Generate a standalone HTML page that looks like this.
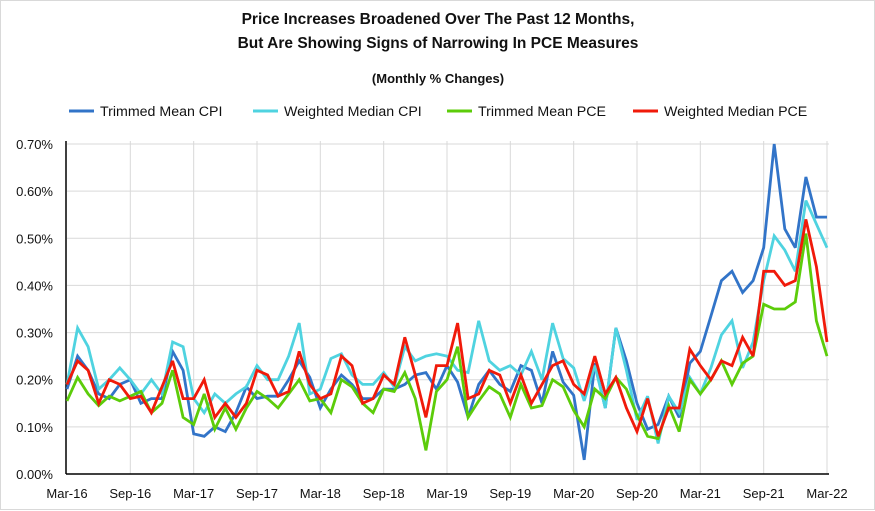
<!DOCTYPE html>
<html><head><meta charset="utf-8"><style>
body{margin:0;background:#fff;font-family:"Liberation Sans",sans-serif}
#wrap{position:relative;width:873px;height:508px;border:1px solid #d9d9d9;background:#fff}
svg{position:absolute;left:0;top:0}
</style></head><body>
<div id="wrap">
<svg id="chart" width="875" height="510"></svg>
</div>
<script>
const categories=["Mar-16","Sep-16","Mar-17","Sep-17","Mar-18","Sep-18","Mar-19","Sep-19","Mar-20","Sep-20","Mar-21","Sep-21","Mar-22"];
const yTicks=[0,0.1,0.2,0.3,0.4,0.5,0.6,0.7];
const trimmedMeanCPI=[0.18,0.25,0.22,0.17,0.16,0.19,0.20,0.15,0.16,0.16,0.26,0.22,0.085,0.08,0.10,0.09,0.13,0.185,0.16,0.165,0.165,0.20,0.24,0.205,0.14,
0.18,0.21,0.19,0.16,0.16,0.18,0.18,0.19,0.21,0.215,0.18,0.23,0.195,0.12,0.19,0.22,0.19,0.175,0.23,0.22,0.15,0.26,0.195,
0.167,0.03,0.235,0.14,0.31,0.24,0.15,0.095,0.105,0.165,0.12,0.235,0.26,0.335,0.41,0.43,0.385,0.41,0.48,0.70,0.52,0.48,0.63,0.545,0.545];
const weightedMedianCPI=[0.19,0.31,0.27,0.18,0.20,0.225,0.20,0.17,0.20,0.17,0.28,0.27,0.16,0.13,0.17,0.15,0.17,0.185,0.23,0.20,0.20,0.25,0.32,0.17,0.18,
0.245,0.255,0.21,0.19,0.19,0.215,0.185,0.27,0.24,0.25,0.255,0.25,0.22,0.215,0.325,0.24,0.22,0.23,0.21,0.26,0.20,0.32,0.245,
0.225,0.155,0.23,0.14,0.31,0.22,0.115,0.165,0.065,0.165,0.13,0.205,0.17,0.225,0.295,0.325,0.225,0.28,0.41,0.505,0.475,0.43,0.58,0.53,0.48];
const trimmedMeanPCE=[0.155,0.205,0.17,0.145,0.165,0.155,0.165,0.175,0.13,0.15,0.22,0.12,0.105,0.17,0.095,0.14,0.095,0.14,0.175,0.16,0.14,0.17,0.20,0.155,0.16,
0.13,0.20,0.185,0.15,0.13,0.18,0.175,0.215,0.16,0.05,0.175,0.20,0.27,0.12,0.155,0.185,0.17,0.12,0.19,0.14,0.145,0.20,0.185,
0.135,0.10,0.18,0.16,0.205,0.18,0.125,0.08,0.075,0.145,0.09,0.20,0.17,0.20,0.24,0.19,0.235,0.25,0.36,0.35,0.35,0.365,0.51,0.325,0.25];
const weightedMedianPCE=[0.19,0.24,0.22,0.15,0.20,0.19,0.16,0.165,0.13,0.185,0.24,0.16,0.16,0.20,0.12,0.15,0.12,0.15,0.22,0.21,0.165,0.175,0.26,0.19,0.16,
0.17,0.25,0.23,0.15,0.16,0.21,0.19,0.29,0.21,0.12,0.23,0.23,0.32,0.16,0.17,0.22,0.21,0.15,0.21,0.15,0.19,0.23,0.24,
0.19,0.17,0.25,0.17,0.205,0.14,0.09,0.16,0.08,0.14,0.14,0.265,0.23,0.20,0.24,0.23,0.29,0.25,0.43,0.43,0.40,0.41,0.54,0.44,0.28];
const seriesNames=["Trimmed Mean CPI","Weighted Median CPI","Trimmed Mean PCE","Weighted Median PCE"];
const seriesColors=["#3274c8","#4fd3e0","#5ccc0a","#f01a0a"];
const seriesData=[trimmedMeanCPI,weightedMedianCPI,trimmedMeanPCE,weightedMedianPCE];

const NS="http://www.w3.org/2000/svg";
const svg=document.getElementById('chart');
const X0=66,X1=826,Y0=473,Y1=143,N=72,YMAX=0.7;
const xs=i=>X0+(X1-X0)*i/N;
const ys=v=>Y0-(Y0-Y1)*v/YMAX;
function mk(t,a,txt){const e=document.createElementNS(NS,t);for(const k in a)e.setAttribute(k,a[k]);if(txt!==undefined)e.textContent=txt;svg.appendChild(e);return e;}

let e;
e=mk('text',{x:437,y:23,'text-anchor':'middle','font-size':'15.5','font-weight':'bold',fill:'#111'},'Price Increases Broadened Over The Past 12 Months,');


e=mk('text',{x:437,y:47,'text-anchor':'middle','font-size':'15.5','font-weight':'bold',fill:'#111'},'But Are Showing Signs of Narrowing In PCE Measures');


e=mk('text',{x:437,y:82,'text-anchor':'middle','font-size':'13','font-weight':'bold',fill:'#111'},'(Monthly % Changes)');



const legX=[68,252,446,632];
seriesNames.forEach((n,k)=>{
  e=mk('line',{x1:legX[k],y1:110,x2:legX[k]+25,y2:110,stroke:seriesColors[k],'stroke-width':3});
  
  
  e=mk('text',{x:legX[k]+31,y:115,'font-size':'14.2',fill:'#111'},n);
  
  
});

yTicks.forEach(v=>{
  if(v>0){e=mk('line',{x1:X0,y1:ys(v),x2:X1+2,y2:ys(v),stroke:'#d9d9d9','stroke-width':1});
  
  }
  e=mk('text',{x:52,y:ys(v)+5,'text-anchor':'end','font-size':'13',fill:'#111'},v.toFixed(2)+'%');
  
  
});
categories.forEach((c,j)=>{
  const x=xs(j*6);
  if(j>0){e=mk('line',{x1:x,y1:Y1-3,x2:x,y2:Y0,stroke:'#d9d9d9','stroke-width':1});
  
  }
  e=mk('text',{x:x,y:497,'text-anchor':'middle','font-size':'13',fill:'#111'},c);
  
  
});
e=mk('line',{x1:X0-1,y1:Y1-3,x2:X0-1,y2:Y0,stroke:'#000','stroke-width':1.5});


e=mk('line',{x1:X0-1,y1:Y0,x2:X1+2,y2:Y0,stroke:'#000','stroke-width':1.5});



seriesData.forEach((d,k)=>{
  const pts=d.map((v,i)=>xs(i).toFixed(1)+','+ys(v).toFixed(1)).join(' ');
  e=mk('polyline',{points:pts,fill:'none',stroke:seriesColors[k],'stroke-width':2.8,'stroke-linejoin':'miter','stroke-miterlimit':3});
  
  
});
</script>
</body></html>
